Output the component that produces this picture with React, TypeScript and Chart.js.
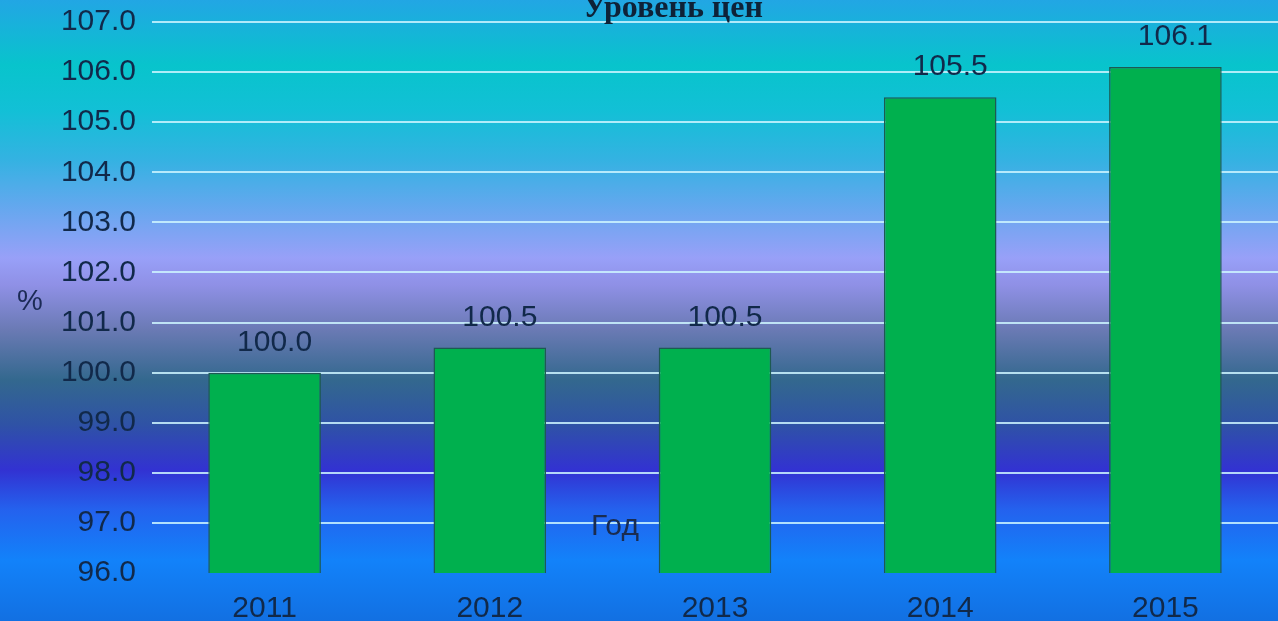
import React, { useEffect, useRef } from "react";
import { Chart, registerables } from "chart.js";

Chart.register(...registerables);

const years = ["2011", "2012", "2013", "2014", "2015"];
const priceLevel = [100.0, 100.5, 100.5, 105.5, 106.1];
const yMin = 96;
const yMax = 107;
const chartTitle = "Уровень цен";
const yAxisTitle = "%";
const xAxisTitle = "Год";

const TEXT = "#11294a";
const SANS = "'Liberation Sans', Arial, sans-serif";

const overlayPlugin = {
  id: "overlayText",
  afterDatasetsDraw(chart: any) {
    const ctx = chart.ctx;
    const meta = chart.getDatasetMeta(0);
    ctx.save();
    ctx.fillStyle = TEXT;
    ctx.font = `30px ${SANS}`;
    ctx.textAlign = "center";
    ctx.textBaseline = "middle";
    meta.data.forEach((bar: any, i: number) => {
      const v = chart.data.datasets[0].data[i] as number;
      ctx.fillText(v.toFixed(1), bar.x + 10, bar.y - 30);
    });
    ctx.restore();
  },
  afterDraw(chart: any) {
    const ctx = chart.ctx;
    ctx.save();
    ctx.fillStyle = "#0e2238";
    ctx.font = `bold 32px 'Liberation Serif', 'Times New Roman', serif`;
    ctx.textAlign = "center";
    ctx.textBaseline = "alphabetic";
    ctx.fillText(chartTitle, 673, 17);

    ctx.fillStyle = "#1b2a55";
    ctx.font = `29px ${SANS}`;
    ctx.textBaseline = "middle";
    ctx.fillText(yAxisTitle, 30, 302);

    ctx.fillStyle = "#1a2c50";
    ctx.font = `30px ${SANS}`;
    ctx.fillText(xAxisTitle, 615, 527);
    ctx.restore();
  },
};

export default function App() {
  const ref = useRef<HTMLCanvasElement | null>(null);

  useEffect(() => {
    if (!ref.current) return;
    const chart = new Chart(ref.current, {
      type: "bar",
      data: {
        labels: years,
        datasets: [
          {
            data: priceLevel,
            backgroundColor: "#00b04e",
            borderColor: "#1d5a52",
            borderWidth: 1.5,
            categoryPercentage: 1,
            barPercentage: 0.5,
          },
        ],
      },
      options: {
        responsive: false,
        animation: false,
        layout: { padding: { top: 22, right: -2, bottom: 0, left: 0 } },
        plugins: {
          legend: { display: false },
          title: { display: false },
          tooltip: { enabled: false },
        },
        scales: {
          x: {
            grid: { display: false },
            border: { display: false },
            ticks: {
              color: TEXT,
              font: { size: 30, family: SANS },
              padding: 10,
            },
            afterFit(scale: any) {
              scale.height = 48;
              scale.paddingLeft = 0;
              scale.paddingRight = 0;
            },
          },
          y: {
            min: yMin,
            max: yMax,
            border: { display: false },
            grid: {
              drawTicks: false,
              lineWidth: 2,
              color: (c: any) =>
                c.tick && c.tick.value === yMin ? "rgba(0,0,0,0)" : "rgba(205,245,255,0.85)",
            },
            ticks: {
              stepSize: 1,
              color: TEXT,
              font: { size: 30, family: SANS },
              padding: 16,
              callback: (v: any) => Number(v).toFixed(1),
            },
            afterFit(scale: any) {
              scale.width = 152;
              scale.paddingTop = 0;
              scale.paddingBottom = 0;
            },
          },
        },
      },
      plugins: [overlayPlugin],
    });
    return () => chart.destroy();
  }, []);

  return (
    <div
      style={{
        position: "absolute",
        left: 0,
        top: 0,
        width: 1278,
        height: 621,
        overflow: "hidden",
        background:
          "linear-gradient(to bottom, #22a6e4 0px, #08c4cc 65px, #12c0d6 110px, #34b2e2 160px, #62a8ee 205px, #98a0f8 258px, #8f90e6 285px, #6a7ab4 330px, #33688e 380px, #2f52a6 425px, #3232d2 470px, #2462ee 510px, #1282fa 560px, #1270e2 621px)",
      }}
    >
      <canvas ref={ref} width={1278} height={621} style={{ display: "block" }} />
    </div>
  );
}
